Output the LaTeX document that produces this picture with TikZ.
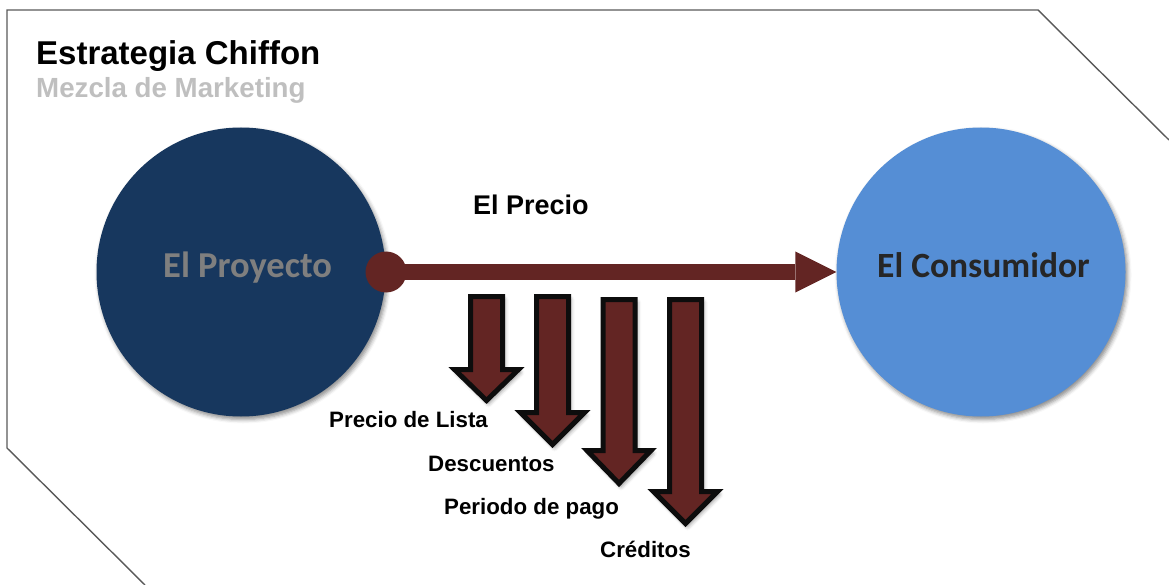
\documentclass[tikz,border=0pt]{standalone}
\usepackage{fontspec}
\setmainfont{Liberation Sans}
\newfontfamily\calib{Carlito}
\usetikzlibrary{arrows.meta,shadows.blur}
\definecolor{maroon}{HTML}{632523}
\definecolor{darkblue}{HTML}{17375E}
\definecolor{lightblue}{HTML}{558ED5}
\definecolor{graytext}{HTML}{7F7F7F}
\definecolor{subgray}{HTML}{BFBFBF}
\definecolor{darktext}{HTML}{262626}
\definecolor{framegray}{HTML}{595959}
\begin{document}
\begin{tikzpicture}[x=1pt,y=-1pt,
  softshadow/.style={blur shadow={shadow xshift=2pt,shadow yshift=-3pt,shadow blur radius=4pt,shadow opacity=45}},
  bigcircle/.style={circle,inner sep=0pt,minimum size=289pt,softshadow},
  lbl/.style={anchor=base west,inner sep=0pt,font=\bfseries\fontsize{22.3}{24}\selectfont,text=black},
  circlbl/.style={anchor=base west,inner sep=0pt,font=\calib\bfseries\fontsize{36.5}{38}\selectfont},
  blockarrow/.style={draw=black!95,fill=maroon,line width=5pt,line join=miter,softshadow},
  mainarrow/.style={draw=maroon,line width=15pt,-{Triangle[length=41pt,width=41pt,line width=0pt]}}]
\useasboundingbox (0,0) rectangle (1169,585);
% frame
\draw[framegray,line width=1.4pt] (145,585) -- (7,448) -- (7,10) -- (1038,10) -- (1169,140);
% titles
\node[anchor=base west,inner sep=0pt,font=\bfseries\fontsize{33}{36}\selectfont] (title) at (36,65) {Estrategia Chiffon};
\node[anchor=base west,inner sep=0pt,font=\bfseries\fontsize{27.7}{30}\selectfont,text=subgray] (subtitle) at (36,98) {Mezcla de Marketing};
% circles
\node[bigcircle,fill=darkblue] (proj) at (241,272) {};
\node[bigcircle,fill=lightblue] (cons) at (981,272) {};
\node[circlbl,text=graytext] (projtxt) at (163,277) {El Proyecto};
\node[circlbl,text=darktext,font=\calib\bfseries\fontsize{35.5}{38}\selectfont] (constxt) at (877,277) {El Consumidor};
% main arrow
\node[circle,fill=maroon,inner sep=0pt,minimum size=41pt] (dot) at (386,272) {};
\draw[mainarrow] (dot.center) -- (cons.west);
\node[anchor=base west,inner sep=0pt,font=\bfseries\fontsize{27}{28}\selectfont] (precio) at (473,215) {El Precio};
% down arrows
\foreach \cx/\tp/\hy/\tip in {486.5/294/367/404, 552.5/294/410/448, 619/297/448/487, 685.5/297/489/527}
  \draw[blockarrow] (\cx-16,\tp+2.5) -- (\cx+16,\tp+2.5) -- (\cx+16,\hy+2.5) -- (\cx+32,\hy+2.5)
     -- (\cx,\tip-3.5) -- (\cx-32,\hy+2.5) -- (\cx-16,\hy+2.5) -- cycle;
% labels
\node[lbl] (lista) at (329,427) {Precio de Lista};
\node[lbl] (desc) at (428,471) {Descuentos};
\node[lbl] (periodo) at (444,514) {Periodo de pago};
\node[lbl] (cred) at (600,557) {Créditos};
\end{tikzpicture}
\end{document}
